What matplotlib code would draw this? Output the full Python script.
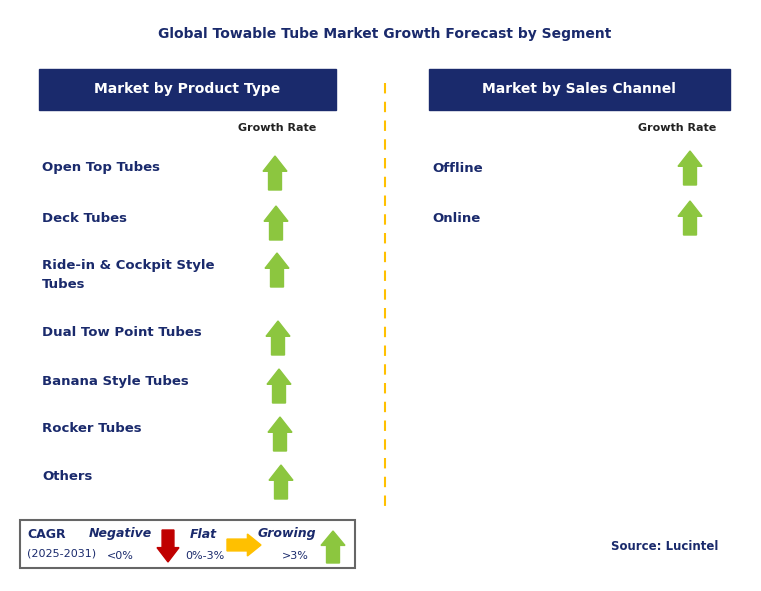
import matplotlib.pyplot as plt
from matplotlib.patches import Rectangle, Polygon

title = "Global Towable Tube Market Growth Forecast by Segment"
product_types = ["Open Top Tubes", "Deck Tubes", "Ride-in & Cockpit Style\nTubes",
                 "Dual Tow Point Tubes", "Banana Style Tubes", "Rocker Tubes", "Others"]
product_y = [168, 218, 275, 333, 381, 429, 477]
product_arrow_x = [275, 276, 277, 278, 279, 280, 281]
sales_channels = ["Offline", "Online"]
sales_y = [168, 218]
sales_arrow_x = [690, 690]

navy = "#1a2a6c"
green = "#8cc63f"

fig = plt.figure(figsize=(7.61, 5.91), dpi=100)
ax = fig.add_axes([0, 0, 1, 1])
ax.set_xlim(0, 761)
ax.set_ylim(591, 0)
ax.axis("off")

def up_arrow(cx, cy, w=24, h=34, color=green):
    hw = w / 2
    sw = w * 0.27
    hh = h * 0.45
    pts = [(cx, cy - h / 2), (cx + hw, cy - h / 2 + hh), (cx + sw, cy - h / 2 + hh),
           (cx + sw, cy + h / 2), (cx - sw, cy + h / 2), (cx - sw, cy - h / 2 + hh),
           (cx - hw, cy - h / 2 + hh)]
    ax.add_patch(Polygon(pts, closed=True, color=color))

def down_arrow(cx, cy, w=24, h=34, color="#c00000"):
    hw, sw, hh = w / 2, w * 0.27, h * 0.45
    pts = [(cx, cy + h / 2), (cx + hw, cy + h / 2 - hh), (cx + sw, cy + h / 2 - hh),
           (cx + sw, cy - h / 2), (cx - sw, cy - h / 2), (cx - sw, cy + h / 2 - hh),
           (cx - hw, cy + h / 2 - hh)]
    ax.add_patch(Polygon(pts, closed=True, color=color))

def right_arrow(cx, cy, w=34, h=24, color="#ffc000"):
    hh, sh, hw = h / 2, h * 0.27, w * 0.4
    pts = [(cx + w / 2, cy), (cx + w / 2 - hw, cy - hh), (cx + w / 2 - hw, cy - sh),
           (cx - w / 2, cy - sh), (cx - w / 2, cy + sh), (cx + w / 2 - hw, cy + sh),
           (cx + w / 2 - hw, cy + hh)]
    ax.add_patch(Polygon(pts, closed=True, color=color))

ax.text(385, 34, title, ha="center", va="center", fontsize=10, fontweight="bold", color=navy)

# header boxes
for x0, label in [(39, "Market by Product Type"), (429, "Market by Sales Channel")]:
    ax.add_patch(Rectangle((x0, 69), 297 if x0 == 39 else 301, 41, color=navy))
    ax.text(x0 + (148 if x0 == 39 else 150), 89.5, label, ha="center", va="center",
            fontsize=10, fontweight="bold", color="white")

ax.text(277, 128, "Growth Rate", ha="center", va="center", fontsize=8, fontweight="bold", color="#222222")
ax.text(677, 128, "Growth Rate", ha="center", va="center", fontsize=8, fontweight="bold", color="#222222")

for lab, y, x in zip(product_types, product_y, product_arrow_x):
    ax.text(42, y, lab, ha="left", va="center", fontsize=9.5, fontweight="bold",
            color=navy, linespacing=1.6)
    up_arrow(x, y + 5 if "\n" not in lab else y - 5)
for lab, y, x in zip(sales_channels, sales_y, sales_arrow_x):
    ax.text(432, y, lab, ha="left", va="center", fontsize=9.5, fontweight="bold", color=navy)
    up_arrow(x, y)

# divider
ax.plot([385, 385], [83, 510], color="#ffc000", lw=1.5, ls=(0, (5, 4)))

# legend box
ax.add_patch(Rectangle((20, 520), 335, 48, fill=False, ec="#666666", lw=1.5))
ax.text(27, 535, "CAGR", fontsize=9, fontweight="bold", color=navy, va="center")
ax.text(27, 554, "(2025-2031)", fontsize=8, color=navy, va="center")
ax.text(120, 534, "Negative", fontsize=9, fontweight="bold", style="italic", color=navy, ha="center", va="center")
ax.text(120, 556, "<0%", fontsize=8, color=navy, ha="center", va="center")
down_arrow(168, 546, w=22, h=32)
ax.text(203, 534, "Flat", fontsize=9, fontweight="bold", style="italic", color=navy, ha="center", va="center")
ax.text(205, 556, "0%-3%", fontsize=8, color=navy, ha="center", va="center")
right_arrow(244, 545, w=34, h=22)
ax.text(287, 534, "Growing", fontsize=9, fontweight="bold", style="italic", color=navy, ha="center", va="center")
ax.text(295, 556, ">3%", fontsize=8, color=navy, ha="center", va="center")
up_arrow(333, 547, w=24, h=32)

ax.text(665, 547, "Source: Lucintel", ha="center", va="center", fontsize=8.5, fontweight="bold", color=navy)

fig.savefig("out.png", dpi=100)
